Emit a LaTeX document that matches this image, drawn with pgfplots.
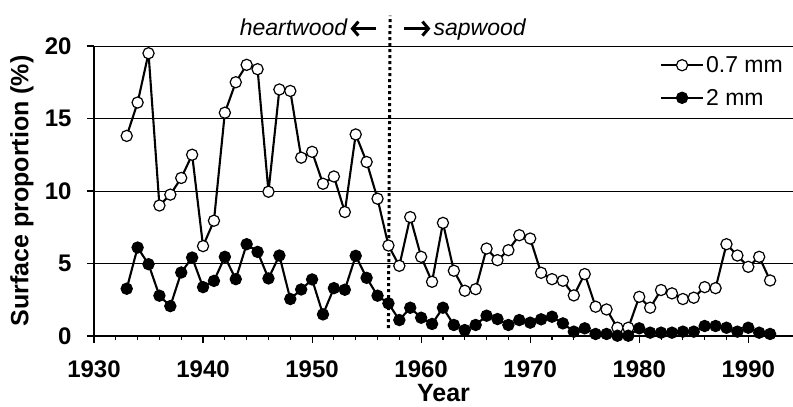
\documentclass[border=0pt]{standalone}
\usepackage{fontspec}
\setmainfont{Liberation Sans}
\usepackage{pgfplots}
\pgfplotsset{compat=1.18}
\usetikzlibrary{arrows.meta}
\begin{document}
\begin{tikzpicture}
\begin{axis}[
  name=ax,
  scale only axis,
  width=699pt, height=290pt,
  xmin=1930, xmax=1994.1, ymin=0, ymax=20,
  enlargelimits=false,
  axis x line*=bottom, axis y line*=left,
  axis line style={-, line width=1.3pt},
  xtick={1930,1940,...,1990}, minor x tick num=4,
  ytick={0,5,10,15,20},
  tick align=outside,
  major tick length=7pt, minor tick length=4pt,
  tick style={line width=1.1pt, black},
  ymajorgrids, grid style={line width=0.9pt, black},
  /pgf/number format/assume math mode=true,
  /pgf/number format/1000 sep={},
  ticklabel style={font=\bfseries\fontsize{24}{24}\selectfont},
  xticklabel style={yshift=-14pt},
  yticklabel style={xshift=-12pt},
  xlabel={Year},
  ylabel={Surface proportion (\%)},
  label style={font=\bfseries\fontsize{25}{25}\selectfont},
  ylabel style={at={(axis description cs:-0.103,0.5)}, anchor=center},
  xlabel style={at={(axis description cs:0.5,0)}, anchor=base, yshift=-66pt, inner sep=0pt},
  clip=false,
  legend style={draw=none, fill=none, at={(axis description cs:0.99,0.975)}, anchor=north east,
    font=\fontsize{23}{23}\selectfont, row sep=11pt, inner sep=1pt,
    /tikz/every even column/.append style={column sep=2pt}},
  legend cell align=left,
  legend image code/.code={
    \draw[#1, mark repeat=2, mark phase=2] plot coordinates {(0pt,0pt) (21pt,0pt) (42pt,0pt)};
  },
]
\addplot[black, line width=2.1pt, mark=*, mark size=5.6pt, mark options={fill=white, line width=1.2pt}]
coordinates {
(1933,13.8)(1934,16.1)(1935,19.5)(1936,9.0)(1937,9.75)(1938,10.9)(1939,12.5)(1940,6.2)
(1941,7.95)(1942,15.4)(1943,17.5)(1944,18.7)(1945,18.4)(1946,9.95)(1947,17.0)(1948,16.9)
(1949,12.3)(1950,12.7)(1951,10.5)(1952,11.0)(1953,8.55)(1954,13.9)(1955,12.0)(1956,9.47)
(1957,6.24)(1958,4.84)(1959,8.2)(1960,5.46)(1961,3.74)(1962,7.8)(1963,4.5)(1964,3.12)
(1965,3.23)(1966,6.03)(1967,5.23)(1968,5.92)(1969,6.95)(1970,6.72)(1971,4.36)(1972,3.92)
(1973,3.81)(1974,2.8)(1975,4.27)(1976,2.02)(1977,1.83)(1978,0.57)(1979,0.57)(1980,2.7)
(1981,1.95)(1982,3.17)(1983,2.94)(1984,2.55)(1985,2.64)(1986,3.37)(1987,3.3)(1988,6.33)
(1989,5.55)(1990,4.77)(1991,5.46)(1992,3.83)
};
\addlegendentry{0.7 mm}
\addplot[black, line width=2.1pt, mark=*, mark size=5.6pt, mark options={fill=black, line width=1.2pt}]
coordinates {
(1933,3.26)(1934,6.1)(1935,4.95)(1936,2.78)(1937,2.06)(1938,4.38)(1939,5.41)(1940,3.37)
(1941,3.8)(1942,5.46)(1943,3.92)(1944,6.33)(1945,5.8)(1946,3.97)(1947,5.55)(1948,2.55)
(1949,3.21)(1950,3.9)(1951,1.49)(1952,3.3)(1953,3.19)(1954,5.53)(1955,4.01)(1956,2.78)
(1957,2.25)(1958,1.1)(1959,1.95)(1960,1.26)(1961,0.83)(1962,1.95)(1963,0.76)(1964,0.41)
(1965,0.76)(1966,1.4)(1967,1.17)(1968,0.76)(1969,1.1)(1970,0.92)(1971,1.15)(1972,1.33)
(1973,0.87)(1974,0.3)(1975,0.53)(1976,0.14)(1977,0.14)(1978,0.02)(1979,0.02)(1980,0.53)
(1981,0.23)(1982,0.23)(1983,0.23)(1984,0.3)(1985,0.3)(1986,0.69)(1987,0.69)(1988,0.57)
(1989,0.3)(1990,0.57)(1991,0.23)(1992,0.14)
};
\addlegendentry{2 mm}
\draw[line width=3pt, dash pattern=on 3pt off 3pt] (axis cs:1957,0.55) -- (axis cs:1957.15,22.1);
\node[anchor=base east, font=\fontsize{23}{23}\selectfont\itshape, inner sep=0pt] at ([xshift=-41pt]axis cs:1957,20.69) {heartwood};
\node[anchor=base west, font=\fontsize{23}{23}\selectfont\itshape, inner sep=0pt] at ([xshift=45pt]axis cs:1957,20.69) {sapwood};
\draw[line width=3pt, -{Straight Barb[length=6pt,width=14pt,line width=3pt]}] ([xshift=-12pt]axis cs:1957,21.2) -- ([xshift=-38pt]axis cs:1957,21.2);
\draw[line width=3pt, -{Straight Barb[length=6pt,width=14pt,line width=3pt]}] ([xshift=16pt]axis cs:1957,21.2) -- ([xshift=42pt]axis cs:1957,21.2);
\end{axis}
\pgfresetboundingbox
\path[use as bounding box] ([xshift=-94pt,yshift=-71pt]ax.south west) rectangle ([yshift=46pt]ax.north east);
\end{tikzpicture}
\end{document}
